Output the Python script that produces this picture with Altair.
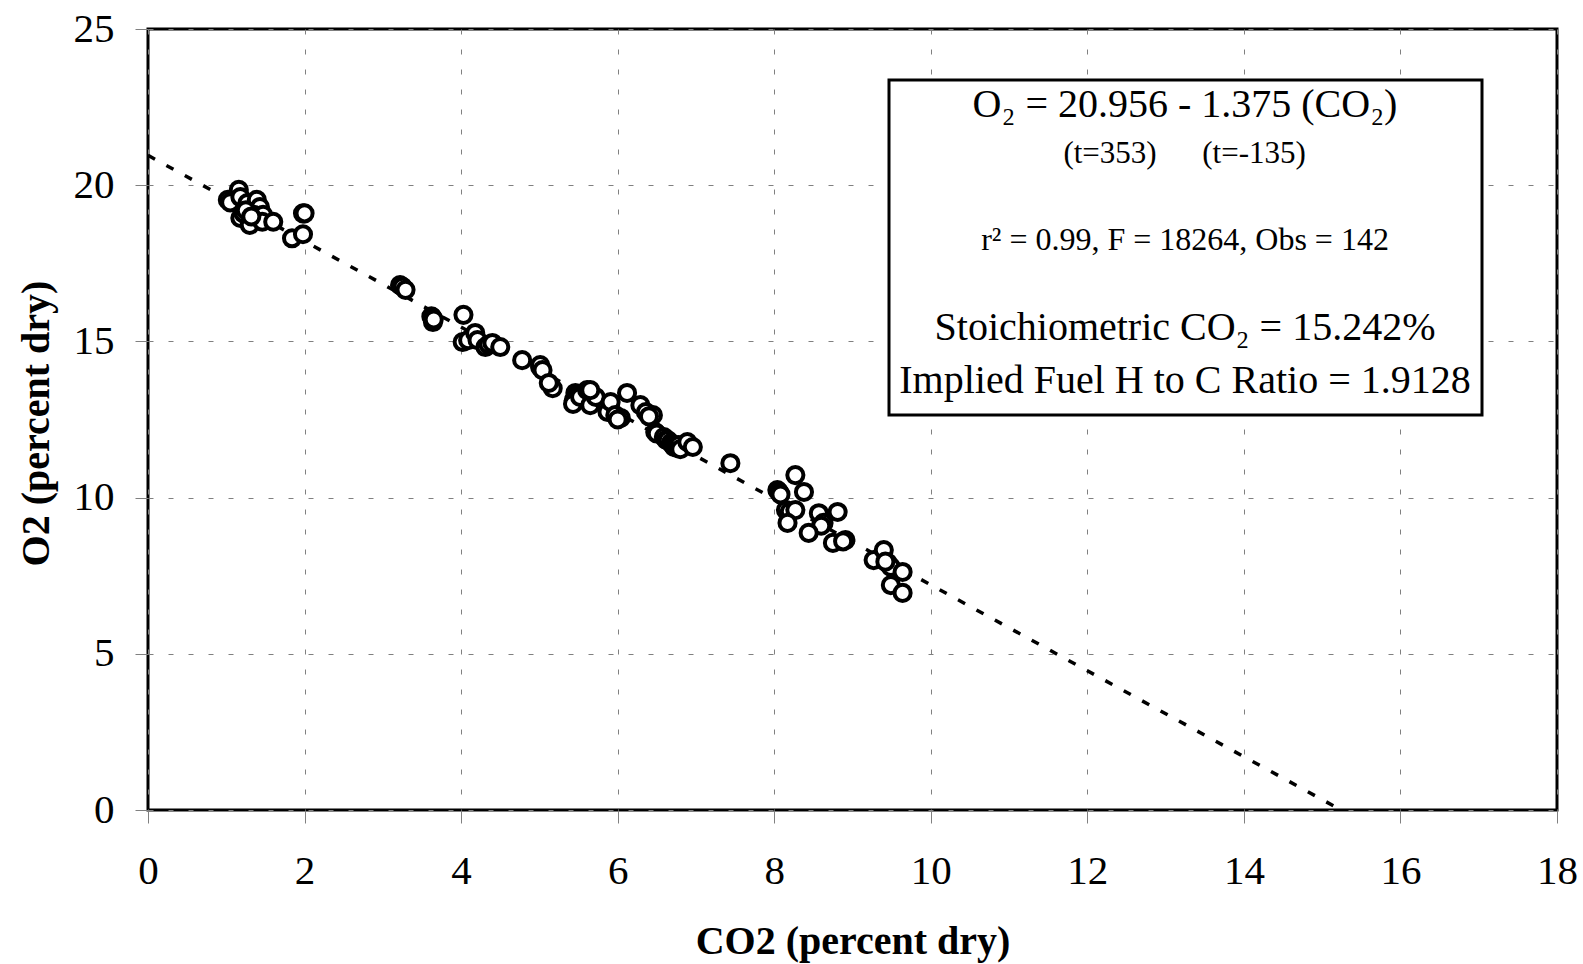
import altair as alt
import pandas as pd

# ---- data ----
co2 = [1.02, 1.05, 1.16, 1.18, 1.27, 1.39, 1.43, 1.18, 1.22, 1.30, 1.35, 1.47, 1.46, 1.60,
       1.98, 2.00, 1.84, 1.98, 1.25, 1.32,
       3.22, 3.25, 3.29, 3.62, 3.63, 3.64, 3.65, 4.03, 4.02, 4.09, 4.18, 4.21, 4.31, 4.35,
       4.40, 4.50, 4.78, 5.01, 5.01, 5.04, 5.17, 5.12,
       5.46, 5.44, 5.49, 5.43, 5.52, 5.61, 5.65, 5.72, 5.65, 5.87, 5.91, 5.97, 6.04, 6.00,
       6.12, 6.29, 6.36, 6.45, 6.40, 6.48, 6.50, 6.59, 6.62, 6.64, 6.68, 6.70, 6.72, 6.76,
       6.78, 6.80, 6.89, 6.96, 7.44,
       8.04, 8.06, 8.08, 8.27, 8.38, 8.15, 8.20, 8.27, 8.17, 8.57, 8.63, 8.60, 8.81, 8.44,
       8.75, 8.91, 8.88,
       9.27, 9.40, 9.45, 9.49, 9.64, 9.49, 9.64, 9.42]
o2 = [19.53, 19.45, 19.85, 19.62, 19.43, 19.53, 19.30, 18.95, 19.10, 18.73, 19.05, 19.05, 18.83, 18.83,
      19.10, 19.10, 18.30, 18.43, 19.20, 19.00,
      16.80, 16.75, 16.65, 15.80, 15.78, 15.62, 15.70, 15.85, 14.98, 15.04, 15.27, 15.04, 14.82, 14.90,
      14.95, 14.82, 14.40, 14.18, 14.24, 14.08, 13.50, 13.67,
      13.35, 13.12, 13.28, 13.00, 13.22, 13.44, 12.96, 13.22, 13.44, 12.74, 13.06, 12.64, 12.55, 12.50,
      13.35, 12.96, 12.74, 12.64, 12.60, 12.10, 12.05, 11.94, 11.85, 11.84, 11.75, 11.70, 11.62, 11.59,
      11.68, 11.55, 11.78, 11.62, 11.10,
      10.24, 10.18, 10.10, 10.72, 10.18, 9.60, 9.55, 9.60, 9.19, 9.50, 9.19, 9.10, 9.54, 8.87,
      8.55, 8.64, 8.60,
      8.00, 8.32, 7.91, 7.78, 7.62, 7.20, 6.95, 7.95]

fit_co2 = [0.0, 15.242]
fit_o2 = [20.956, 0.0]

x_ticks = [0, 2, 4, 6, 8, 10, 12, 14, 16, 18]
y_ticks = [0, 5, 10, 15, 20, 25]

x_title = "CO2 (percent dry)"
y_title = "O2 (percent dry)"

eq_line = "O₂ = 20.956 - 1.375 (CO₂)"
t_left = "(t=353)"
t_right = "(t=-135)"
stats_line = "r² = 0.99, F = 18264, Obs = 142"
stoich_line = "Stoichiometric CO₂ = 15.242%"
ratio_line = "Implied Fuel H to C Ratio = 1.9128"

FONT = "Liberation Serif"

pts = pd.DataFrame({"co2": co2, "o2": o2})
fit = pd.DataFrame({"co2": fit_co2, "o2": fit_o2})
one = pd.DataFrame({"k": [0]})

x_scale = alt.Scale(domain=[0, 18], nice=False, zero=False)
y_scale = alt.Scale(domain=[0, 25], nice=False, zero=False)

x_axis = alt.Axis(
    values=x_ticks, format="d", title=x_title, grid=True, gridDash=[5, 15], gridColor="#808080",
    gridWidth=1, labelFont=FONT, labelFontSize=41, labelColor="black", labelPadding=28,
    tickSize=13, tickColor="#808080", tickWidth=1, domain=False, labelFlush=False,
    labelOverlap=False, titleFont=FONT, titleFontSize=40, titleFontWeight="bold",
    titleColor="black", titleY=143, titleBaseline="alphabetic",
)
y_axis = alt.Axis(
    values=y_ticks, format="d", title=y_title, grid=True, gridDash=[5, 15], gridColor="#808080",
    gridWidth=1, labelFont=FONT, labelFontSize=41, labelColor="black", labelPadding=21,
    tickSize=13, tickColor="#808080", tickWidth=1, domain=False, labelFlush=False,
    labelOverlap=False, titleFont=FONT, titleFontSize=40, titleFontWeight="bold",
    titleColor="black", titleX=-100, titleY=394, titleBaseline="alphabetic", titleAngle=270,
)

fit_line = alt.Chart(fit).mark_line(color="black", strokeDash=[8, 13], strokeWidth=3.5).encode(
    x=alt.X("co2:Q", scale=x_scale, axis=x_axis),
    y=alt.Y("o2:Q", scale=y_scale, axis=y_axis),
)

points = alt.Chart(pts).mark_point(
    shape="circle", filled=True, fill="white", stroke="black", strokeWidth=4,
    size=260, opacity=1, fillOpacity=1, strokeOpacity=1,
).encode(
    x=alt.X("co2:Q", scale=x_scale),
    y=alt.Y("o2:Q", scale=y_scale),
)

box = alt.Chart(one).mark_rect(fill="white", stroke="black", strokeWidth=3).encode(
    x=alt.value(741), x2=alt.value(1334), y=alt.value(51), y2=alt.value(386)
)


def note(txt, x, y, size):
    return alt.Chart(one).mark_text(
        text=txt, font=FONT, fontSize=size, align="center", baseline="alphabetic", color="black"
    ).encode(x=alt.value(x), y=alt.value(y))


texts = [
    note(eq_line, 1037, 88, 40),
    note(t_left, 962, 134, 31),
    note(t_right, 1106, 134, 31),
    note(stats_line, 1037, 221, 32),
    note(stoich_line, 1037, 311, 40),
    note(ratio_line, 1037, 364, 40),
]

chart = alt.layer(fit_line, points, box, *texts).properties(
    width=1409,
    height=781,
    autosize=alt.AutoSizeParams(type="none"),
    padding={"left": 148, "top": 29, "right": 26, "bottom": 154},
    background="white",
).configure_view(stroke="black", strokeWidth=3)

chart.save("out.html", embed_options={"renderer": "svg", "actions": False})
